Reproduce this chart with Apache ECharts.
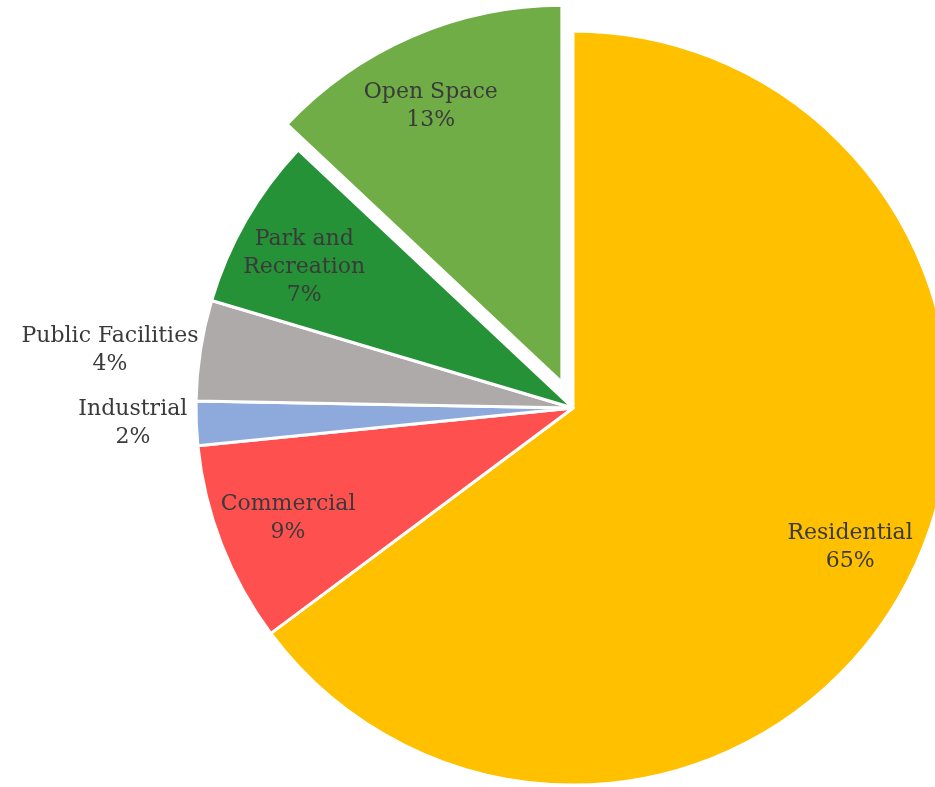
<!DOCTYPE html>
<html><head><meta charset="utf-8">
<script src="https://cdn.jsdelivr.net/npm/echarts@6/dist/echarts.min.js"></script>
<style>html,body{margin:0;padding:0;background:#fff}#c{width:935px;height:787px}</style>
</head><body><div id="c"></div>
<script>
const categories = ['Residential', 'Commercial', 'Industrial', 'Public Facilities', 'Park and\nRecreation', 'Open Space'];
const values = [64.8, 8.6, 1.9, 4.3, 7.4, 13.0];
const colors = ['#FFC000', '#FF5050', '#8EA9DB', '#AEAAAA', '#259237', '#70AD47'];
const outsideCategories = ['Industrial', 'Public Facilities'];
const explodedCategory = 'Open Space';

const center = [573, 408];
const R = 377;
const explodeOffset = 28;
const labelFont = { fontFamily: 'DejaVu Serif', fontSize: 22, color: '#3a3a3a', lineHeight: 28 };
const outsideGap = { 'Industrial': 9, 'Public Facilities': 2 };
const labelNudge = { 'Park and\nRecreation': [0, 14], 'Open Space': [-8, 8], 'Commercial': [4, -2] };

function fmt(p) {
  const lines = (p.name + '\n' + Math.round(p.percent) + '%').split('\n');
  return lines.map(l => '{c|' + l + '}').join('\n');
}

// direction of the exploded slice's bisector (for moving its label along with it)
const total = values.reduce((a, b) => a + b, 0);
let acc = 0;
const explodeShift = {};
categories.forEach((n, i) => {
  const mid = (acc + values[i] / 2) / total * Math.PI * 2; // clockwise from 12 o'clock
  acc += values[i];
  if (n === explodedCategory) explodeShift[n] = [Math.sin(mid) * explodeOffset, -Math.cos(mid) * explodeOffset];
});

const sliceData = categories.map((n, i) => ({
  name: n, value: values[i],
  selected: n === explodedCategory,
  itemStyle: { color: colors[i] }
}));

const labelData = categories.map((n, i) => {
  const outside = outsideCategories.indexOf(n) >= 0;
  const nudge = labelNudge[n] || [0, 0];
  const sh = explodeShift[n] || [0, 0];
  const lab = outside ? { position: 'outside', distanceToLabelLine: outsideGap[n] }
                      : { position: 'inside', offset: [nudge[0] + sh[0], nudge[1] + sh[1]] };
  return {
    name: n, value: values[i],
    label: lab,
    labelLine: { show: false, length: 0, length2: 0 }
  };
});

const chart = echarts.init(document.getElementById('c'), null, { renderer: 'canvas' });
chart.setOption({
  animation: false,
  series: [
    {
      type: 'pie', center: center, radius: [0, R],
      startAngle: 90, clockwise: true,
      selectedMode: 'single', selectedOffset: explodeOffset,
      silent: true,
      avoidLabelOverlap: false,
      itemStyle: { borderColor: '#ffffff', borderWidth: 3 },
      label: { show: false }, labelLine: { show: false },
      emphasis: { disabled: true },
      data: sliceData
    },
    {
      type: 'pie', center: center, radius: [237, R],
      startAngle: 90, clockwise: true,
      selectedMode: false,
      silent: true,
      avoidLabelOverlap: false,
      itemStyle: { color: 'rgba(0,0,0,0)', borderWidth: 0 },
      label: Object.assign({ show: true, formatter: fmt, rich: { c: Object.assign({ align: 'center' }, labelFont) } }, labelFont),
      labelLine: { show: false, length: 0, length2: 0 },
      emphasis: { disabled: true },
      data: labelData
    }
  ]
});
</script></body></html>
